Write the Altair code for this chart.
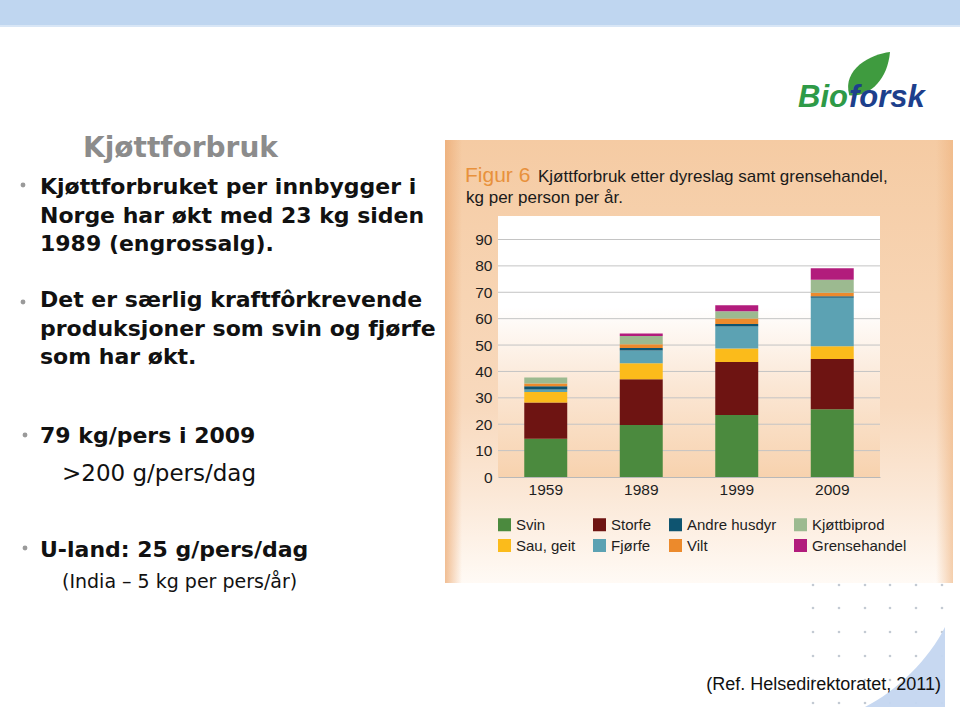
import altair as alt
import pandas as pd

# ---------------- data ----------------
years = ["1959", "1989", "1999", "2009"]
stack_order = ["Svin", "Storfe", "Sau, geit", "Fjørfe", "Andre husdyr", "Vilt", "Kjøttbiprod", "Grensehandel"]
svin = [14.5, 19.7, 23.5, 25.7]
storfe = [13.7, 17.3, 20.1, 19.0]
sau_geit = [4.0, 6.1, 5.1, 4.8]
fjorfe = [1.0, 4.8, 8.3, 18.4]
andre_husdyr = [1.2, 1.0, 1.0, 0.6]
vilt = [1.0, 1.4, 2.1, 1.3]
kjottbiprod = [2.3, 3.1, 2.7, 4.9]
grensehandel = [0.0, 1.0, 2.3, 4.4]
legend_order = ["Svin", "Storfe", "Andre husdyr", "Kjøttbiprod",
                "Sau, geit", "Fjørfe", "Vilt", "Grensehandel"]
legend_colors = ["#4b8a3e", "#6e1412", "#0e5470", "#9cba90",
                 "#fbbb1b", "#5ca2b3", "#ec8a2c", "#b21c7c"]
y_ticks = [0, 10, 20, 30, 40, 50, 60, 70, 80, 90]

series = [svin, storfe, sau_geit, fjorfe, andre_husdyr, vilt, kjottbiprod, grensehandel]
rows = []
for i, (cat, vals) in enumerate(zip(stack_order, series)):
    for yr, v in zip(years, vals):
        rows.append({"year": yr, "cat": cat, "kg": v, "idx": i})
bars_df = pd.DataFrame(rows)
grid_df = pd.DataFrame({"kg": y_ticks[1:]})

# ---------------- layout ----------------
X0, Y0, W, H = 498, 216, 382, 261
Y_MAX = 98.9
ONE = alt.Data(values=[{"_": 0}])
CHART_FONT = "Liberation Sans"
SLIDE_FONT = "DejaVu Sans"


def px(x):
    return x - X0


def py(y):
    return y - Y0


def grad(stops, vertical=True):
    return alt.LinearGradient(
        gradient="linear",
        stops=[alt.GradientStop(color=c, offset=o) for o, c in stops],
        x1=0, x2=0 if vertical else 1, y1=0, y2=1 if vertical else 0,
    )


def rect(x0, y0, x1, y1, fill):
    return alt.Chart(ONE).mark_rect(color=fill, strokeWidth=0).encode(
        x=alt.value(px(x0)), x2=alt.value(px(x1)),
        y=alt.value(py(y0)), y2=alt.value(py(y1)))


def text(s, x, y, size, font=SLIDE_FONT, weight="normal", color="#111111",
         align="left", style="normal"):
    return alt.Chart(ONE).mark_text(
        text=s, align=align, baseline="alphabetic", fontSize=size, font=font,
        fontWeight=weight, color=color, fontStyle=style,
    ).encode(x=alt.value(px(x)), y=alt.value(py(y)))


def dot(x, y, size, color, shape="circle", opacity=1.0):
    return alt.Chart(ONE).mark_point(
        shape=shape, filled=True, size=size, color=color, opacity=opacity, strokeWidth=0
    ).encode(x=alt.value(px(x)), y=alt.value(py(y)))


y_axis = alt.Axis(values=y_ticks, labelFont=CHART_FONT, labelFontSize=15.5,
                  labelColor="#1e1e1e", domain=False, ticks=False, grid=False,
                  labelOverlap=False, labelPadding=6, zindex=1)
y_scale = alt.Scale(domain=[0, Y_MAX], nice=False, zero=True)

layers = []

# top band
layers.append(rect(0, 0, 960, 26, "#bfd6f0"))
layers.append(rect(0, 25, 960, 27, "#d8e6f6"))

# chart panel background
layers.append(rect(445, 140, 953, 583, grad(
    [(0, "#f5cba3"), (0.35, "#f7d4b3"), (0.6, "#f8d9bd"), (0.8, "#fbe8d7"), (1, "#fffaf5")])))
layers.append(rect(445, 140, 462, 583, grad(
    [(0, "rgba(236,170,115,0.75)"), (1, "rgba(236,170,115,0)")], vertical=False)))
layers.append(rect(936, 140, 953, 583, grad(
    [(0, "rgba(238,178,125,0)"), (1, "rgba(238,178,125,0.6)")], vertical=False)))
# plot area background
layers.append(rect(X0, Y0, X0 + W, Y0 + H, grad(
    [(0, "#ffffff"), (0.35, "#ffffff"), (0.65, "#fbe7d5"), (1, "#f7d2ae")])))

# gridlines
layers.append(alt.Chart(grid_df).mark_rule(color="#c4c4c4", strokeWidth=1).encode(
    y=alt.Y("kg:Q", title=None, scale=y_scale, axis=y_axis),
    x=alt.value(0), x2=alt.value(W)))

# bars
bars = alt.Chart(bars_df).mark_bar(strokeWidth=0).encode(
    x=alt.X("year:N", title=None, sort=years,
            scale=alt.Scale(paddingInner=0.55, paddingOuter=0.275),
            axis=alt.Axis(labelAngle=0, labelFont=CHART_FONT, labelFontSize=15.5,
                          labelColor="#1e1e1e", domainColor="#b8b8b8", ticks=False,
                          labelPadding=5, zindex=1)),
    y=alt.Y("kg:Q", stack="zero", title=None, scale=y_scale, axis=y_axis),
    color=alt.Color("cat:N", scale=alt.Scale(domain=legend_order, range=legend_colors),
                    legend=alt.Legend(title=None, orient="none", legendX=-1, legendY=301,
                                      direction="horizontal",
                                      columns=4, symbolType="square", symbolSize=169,
                                      symbolStrokeWidth=0, labelFont=CHART_FONT,
                                      labelFontSize=15, labelColor="#1e1e1e",
                                      labelOffset=4, columnPadding=16, rowPadding=5,
                                      padding=0, zindex=1)),
    order=alt.Order("idx:Q"),
)
layers.append(bars)

# chart title
layers.append(text("Figur 6", 465, 182, 21, font=CHART_FONT, color="#e8913c"))
layers.append(text("Kjøttforbruk etter dyreslag samt grensehandel,", 538, 182, 17,
                   font=CHART_FONT, color="#1a1a1a"))
layers.append(text("kg per person per år.", 466, 203, 17, font=CHART_FONT, color="#1a1a1a"))

# slide title and bullets
layers.append(text("Kjøttforbruk", 83, 157, 28, weight="bold", color="#8c8c8c"))
for (bx, by) in [(23, 185), (23, 302), (25, 435), (25, 548)]:
    layers.append(dot(bx, by, 24, "#9a9a9a"))
bullet_lines = [
    ("Kjøttforbruket per innbygger i", 194),
    ("Norge har økt med 23 kg siden", 223),
    ("1989 (engrossalg).", 251),
    ("Det er særlig kraftfôrkrevende", 307),
    ("produksjoner som svin og fjørfe", 336),
    ("som har økt.", 364),
    ("79 kg/pers i 2009", 443),
    ("U-land: 25 g/pers/dag", 557),
]
for s, by in bullet_lines:
    layers.append(text(s, 40, by, 22, weight="bold", color="#111111"))
layers.append(text(">200 g/pers/dag", 62, 481, 23, color="#111111"))
layers.append(text("(India – 5 kg per pers/år)", 62, 588, 19, color="#111111"))

# decorative dots and wedge (bottom right)
for yy in [585, 608, 632, 656, 680, 703]:
    for xx in [813, 839, 865, 890, 916, 942]:
        layers.append(dot(xx, yy, 7, "#c3cad3"))
layers.append(dot(905, 667, 6400, "#c4d6f0",
                  shape="M -1 1 C -0.2 0.6 0.6 -0.2 1 -1 L 1 1 Z", opacity=0.95))
layers.append(text("(Ref. Helsedirektoratet, 2011)", 941, 690, 18, font=CHART_FONT,
                   color="#111111", align="right"))

# logo
layers.append(dot(866, 76, 2300, "#3f9b3f",
                  shape="M 1 -1 C 0.2 -0.9 -1 -0.3 -0.7 0.8 C 0.1 0.9 0.9 0.2 1 -1 Z"))
layers.append(text("Bio", 798, 107, 31, font=CHART_FONT, weight="bold", style="italic",
                   color="#2e9a47"))
layers.append(text("forsk", 849, 107, 31, font=CHART_FONT, weight="bold", style="italic",
                   color="#1d3f8c"))

chart = alt.layer(*layers).properties(
    width=W, height=H,
    padding={"left": X0, "top": Y0, "right": 960 - X0 - W, "bottom": 707 - Y0 - H},
    autosize=alt.AutoSizeParams(type="none"),
    background="white",
).configure_view(stroke=None)

chart.save("out.html", embed_options={"renderer": "svg", "actions": False})
